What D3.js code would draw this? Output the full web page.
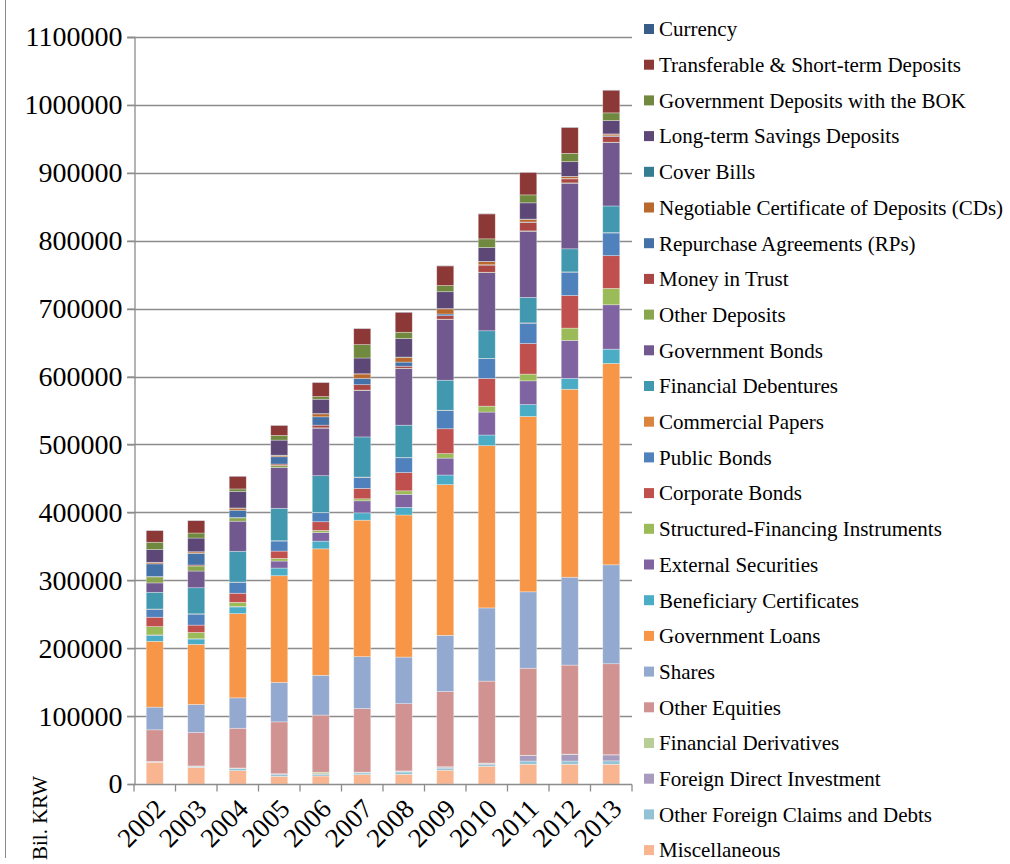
<!DOCTYPE html>
<html>
<head>
<meta charset="utf-8">
<script src="https://cdn.jsdelivr.net/npm/d3@7"></script>
<style>
  html, body { margin: 0; padding: 0; background: #ffffff; }
  svg { display: block; }
</style>
</head>
<body>
<svg id="chart" width="1010" height="864"></svg>
<script>
// ---- Data (Bil. KRW), stacked bottom -> top ----
const years = ["2002","2003","2004","2005","2006","2007","2008","2009","2010","2011","2012","2013"];
const yTicks = [0,100000,200000,300000,400000,500000,600000,700000,800000,900000,1000000,1100000];

const seriesNames = [
  "Miscellaneous","Other Foreign Claims and Debts","Foreign Direct Investment","Financial Derivatives",
  "Other Equities","Shares","Government Loans","Beneficiary Certificates","External Securities",
  "Structured-Financing Instruments","Corporate Bonds","Public Bonds","Commercial Papers",
  "Financial Debentures","Government Bonds","Other Deposits","Money in Trust",
  "Repurchase Agreements (RPs)","Negotiable Certificate of Deposits (CDs)","Cover Bills",
  "Long-term Savings Deposits","Government Deposits with the BOK",
  "Transferable & Short-term Deposits","Currency"
];
const seriesColors = [
  "#F9B590","#91C3D5","#A99BBD","#B9CD96",
  "#D19392","#93A9CF","#F79646","#4BACC6","#8064A2",
  "#9BBB59","#C0504D","#4F81BD","#DB843D",
  "#4198AF","#71588F","#89A54E","#AA4643",
  "#4472A8","#B9692E","#357D91",
  "#5C4776","#71893F",
  "#8C3836","#385D8A"
];

const miscellaneous      = [32000,24600,19700,11300,11800,13800,14200,20300,26200,29100,29100,29100];
const otherForeign       = [600,1500,3000,2500,2000,2500,3500,3000,2500,4700,4700,5000];
const foreignDirectInv   = [300,300,700,1000,1000,900,1000,1500,1700,8200,9900,8700];
const finDerivatives     = [200,200,200,300,2500,300,600,600,500,300,300,300];
const otherEquities      = [46700,49200,58500,76400,84200,93600,99000,110700,120600,128200,131100,134000];
const shares             = [33400,41300,44800,58100,58600,76400,68600,82800,107800,112500,129400,145700];
const governmentLoans    = [96900,88500,124000,157100,186200,201000,209200,221900,238900,258200,276800,296500];
const beneficiaryCerts   = [8900,7900,9800,11300,11300,10800,11200,14200,15700,17500,16000,21000];
const externalSecurities = [500,400,500,10300,12800,17700,19300,24900,33800,35000,55900,65400];
const structuredFinance  = [12300,9300,6400,3900,3000,3000,5100,6600,8700,9900,18100,24100];
const corporateBonds     = [13800,10800,13300,10800,12800,15300,26900,36600,40800,45000,48000,48200];
const publicBonds        = [11800,16200,16200,14800,13300,16300,21800,26900,29100,30000,34500,33400];
const commercialPapers   = [300,400,300,400,300,400,300,400,300,400,300,500];
const finDebentures      = [24600,38400,45300,47800,54200,59100,47700,44200,40800,37500,34000,39300];
const governmentBonds    = [13800,24600,44300,60100,70000,68500,83300,89400,85700,97500,96600,93400];
const otherDeposits      = [8900,7400,4900,3000,500,500,500,500,500,500,500,500];
const moneyInTrust       = [500,1500,500,2000,3900,7900,3000,5100,10500,12500,5900,8400];
const repurchaseAgr      = [18700,17200,10800,10800,12300,9400,6100,2500,500,500,500,1000];
const negotiableCDs      = [2000,2000,3000,2000,4400,6400,7100,7600,4700,4100,2900,2500];
const coverBills         = [300,300,300,300,300,300,300,300,300,300,300,300];
const longTermSavings    = [18700,20200,24100,22200,21200,23200,27400,24900,20400,23900,21600,19700];
const govDepositsBOK     = [10800,7400,3900,6900,3900,19700,9100,9100,12800,11700,12300,11300];
const transferable       = [17200,18200,18700,14800,20700,23600,29500,28900,36700,33200,38200,33400];
const currency           = [300,300,300,300,300,300,300,300,300,300,300,300];

const seriesValues = [
  miscellaneous, otherForeign, foreignDirectInv, finDerivatives,
  otherEquities, shares, governmentLoans, beneficiaryCerts, externalSecurities,
  structuredFinance, corporateBonds, publicBonds, commercialPapers,
  finDebentures, governmentBonds, otherDeposits, moneyInTrust,
  repurchaseAgr, negotiableCDs, coverBills,
  longTermSavings, govDepositsBOK, transferable, currency
];

// ---- Build table for d3.stack ----
const table = years.map((yr, i) => {
  const row = { year: yr };
  seriesNames.forEach((name, s) => { row[name] = seriesValues[s][i]; });
  return row;
});

const svg = d3.select("#chart");
const FONT = "'Liberation Serif', 'Times New Roman', serif";

const plot = { left: 134, right: 632, top: 37, bottom: 784 };

const x = d3.scaleBand()
  .domain(years)
  .range([plot.left, plot.right])
  .paddingInner(0.59)
  .paddingOuter(0.295);

const y = d3.scaleLinear()
  .domain([0, 1100000])
  .range([plot.bottom, plot.top]);

// outer frame line (left edge of chart area)
svg.append("line")
  .attr("x1", 5.5).attr("x2", 5.5).attr("y1", 0).attr("y2", 858)
  .attr("stroke", "#8a8a8a").attr("stroke-width", 1);

// gridlines (extend into tick marks)
svg.append("g")
  .selectAll("line")
  .data(yTicks.slice(1))
  .join("line")
  .attr("x1", plot.left - 7).attr("x2", plot.right)
  .attr("y1", d => Math.round(y(d)) + 0.5).attr("y2", d => Math.round(y(d)) + 0.5)
  .attr("stroke", "#8c8c8c").attr("stroke-width", 1.3);

// stacked bars
const stack = d3.stack().keys(seriesNames);
const stacked = stack(table);

svg.append("g")
  .selectAll("g")
  .data(stacked)
  .join("g")
  .attr("fill", (d, i) => seriesColors[i])
  .selectAll("rect")
  .data(d => d)
  .join("rect")
  .attr("x", d => x(d.data.year))
  .attr("width", x.bandwidth())
  .attr("y", d => y(d[1]))
  .attr("height", d => Math.max(0, y(d[0]) - y(d[1])))
  .attr("stroke", "rgba(255,255,255,0.45)")
  .attr("stroke-width", 0.7);

// y axis
const yAxis = d3.axisLeft(y).tickValues(yTicks).tickSize(7).tickFormat(d3.format("d"));
const yg = svg.append("g")
  .attr("transform", `translate(${plot.left + 0.5},0)`)
  .call(yAxis);
yg.select(".domain").attr("stroke", "#8c8c8c").attr("stroke-width", 1.3);
yg.selectAll(".tick line").attr("stroke", "#8c8c8c").attr("stroke-width", 1.3);
yg.selectAll(".tick text")
  .attr("font-family", FONT).attr("font-size", 28).attr("fill", "#000")
  .attr("x", -12);

// x axis with ticks at band boundaries
const xg = svg.append("g").attr("transform", `translate(0,${plot.bottom + 0.5})`);
xg.append("line")
  .attr("x1", plot.left).attr("x2", plot.right)
  .attr("stroke", "#8c8c8c").attr("stroke-width", 1.3);
const step = x.step();
const boundaries = d3.range(years.length + 1).map(i => plot.left + i * step);
xg.selectAll("line.tk")
  .data(boundaries)
  .join("line")
  .attr("class", "tk")
  .attr("x1", d => d).attr("x2", d => d)
  .attr("y1", 0).attr("y2", 7)
  .attr("stroke", "#8c8c8c").attr("stroke-width", 1.3);

xg.selectAll("text")
  .data(years)
  .join("text")
  .attr("transform", d => `translate(${x(d) + x.bandwidth() / 2 + 12},${26}) rotate(-45)`)
  .attr("text-anchor", "end")
  .attr("font-family", FONT).attr("font-size", 27).attr("fill", "#000")
  .text(d => d);

// y axis title
svg.append("text")
  .attr("transform", "translate(47,818) rotate(-90)")
  .attr("text-anchor", "middle")
  .attr("font-family", FONT).attr("font-size", 21).attr("fill", "#000")
  .text("Bil. KRW");

// legend (reverse of stacking order)
const legendItems = seriesNames.map((n, i) => ({ name: n, color: seriesColors[i] })).reverse();
const lg = svg.append("g");
const rows = lg.selectAll("g")
  .data(legendItems)
  .join("g")
  .attr("transform", (d, i) => `translate(644,${29 + i * 35.7})`);
rows.append("rect")
  .attr("x", 0).attr("y", -5).attr("width", 10).attr("height", 10)
  .attr("fill", d => d.color);
rows.append("text")
  .attr("x", 15).attr("y", 0).attr("dy", "0.35em")
  .attr("font-family", FONT).attr("font-size", 21).attr("fill", "#000")
  .text(d => d.name);
</script>
</body>
</html>
